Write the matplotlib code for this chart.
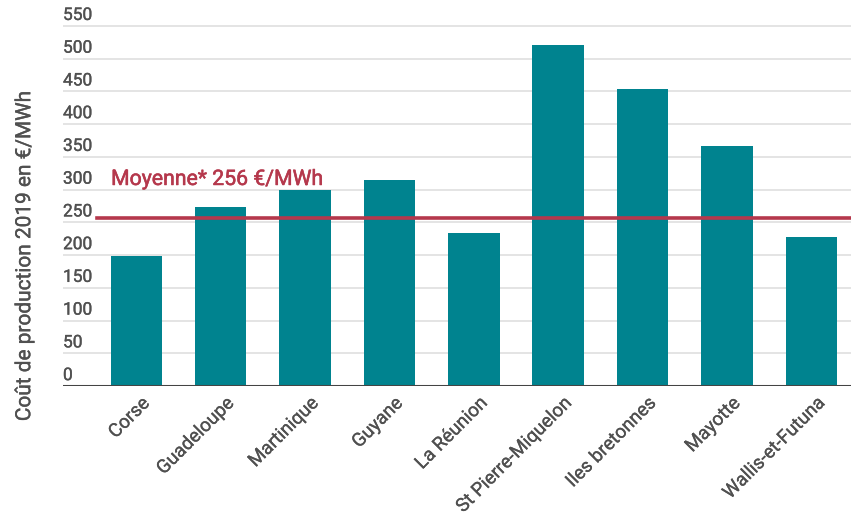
import matplotlib
matplotlib.use("Agg")
import matplotlib.pyplot as plt
import matplotlib.transforms as mtransforms
import matplotlib.patheffects as pe

plt.rcParams["font.family"] = ["Roboto", "DejaVu Sans"]

# territoires et coût de production 2019 (€/MWh)
territoires = ["Corse", "Guadeloupe", "Martinique", "Guyane", "La Réunion",
               "St Pierre-Miquelon", "Iles bretonnes", "Mayotte", "Wallis-et-Futuna"]
couts = [199, 273, 300, 314, 234, 520, 454, 367, 227]
moyenne = 256
yticks = [0, 50, 100, 150, 200, 250, 300, 350, 400, 450, 500, 550]

TEAL = "#00838f"
RED = "#b5384c"
GREY_TXT = "#505050"


def heavier(color, lw=0.25):
    # épaissit un peu le trait (Roboto Medium absent)
    return [pe.withStroke(linewidth=lw, foreground=color)]


fig = plt.figure(figsize=(8.51, 5.17), dpi=100)
ax = fig.add_axes([0.074, 0.2534, 0.926, 0.7093])

x = range(len(territoires))
ax.bar(x, couts, width=0.61, color=TEAL, zorder=2)
ax.set_xlim(-0.87, 8.47)
ax.set_ylim(0, 560)

# grille horizontale
for v in yticks[1:]:
    ax.axhline(v, color="#dddddd", lw=1.1, zorder=1)
ax.axhline(0, color="#444444", lw=2.2, zorder=3)

# ligne de moyenne
ax.plot([-0.47, 8.47], [moyenne, moyenne], color=RED, lw=2.6, zorder=4)
ax.text(-0.3, 307, f"Moyenne* {moyenne} €/MWh", color=RED,
        fontsize=15.3, va="baseline", ha="left", path_effects=heavier(RED, 0.4))

# étiquettes de l'axe y au-dessus des lignes
trans = mtransforms.blended_transform_factory(ax.transAxes, ax.transData)
for v in yticks:
    ax.text(0.0, v + 9, str(v), transform=trans, ha="left", va="baseline",
            fontsize=12.5, color=GREY_TXT, path_effects=heavier(GREY_TXT))

ax.set_yticks([])
ax.set_xticks(list(x))
ax.set_xticklabels(territoires, rotation=45, ha="right", rotation_mode="anchor",
                   fontsize=13.6, color=GREY_TXT)
ax.tick_params(axis="x", length=0, pad=6)
for lbl in ax.get_xticklabels():
    lbl.set_transform(lbl.get_transform() + mtransforms.ScaledTranslation(4 / 100, 0, fig.dpi_scale_trans))
    lbl.set_path_effects(heavier(GREY_TXT, 0.2))

for s in ax.spines.values():
    s.set_visible(False)

fig.text(0.029, 0.505, "Coût de production 2019 en €/MWh", rotation=90,
         ha="center", va="center", fontsize=15, color=GREY_TXT,
         path_effects=heavier(GREY_TXT))

fig.savefig("out.png", dpi=100)
